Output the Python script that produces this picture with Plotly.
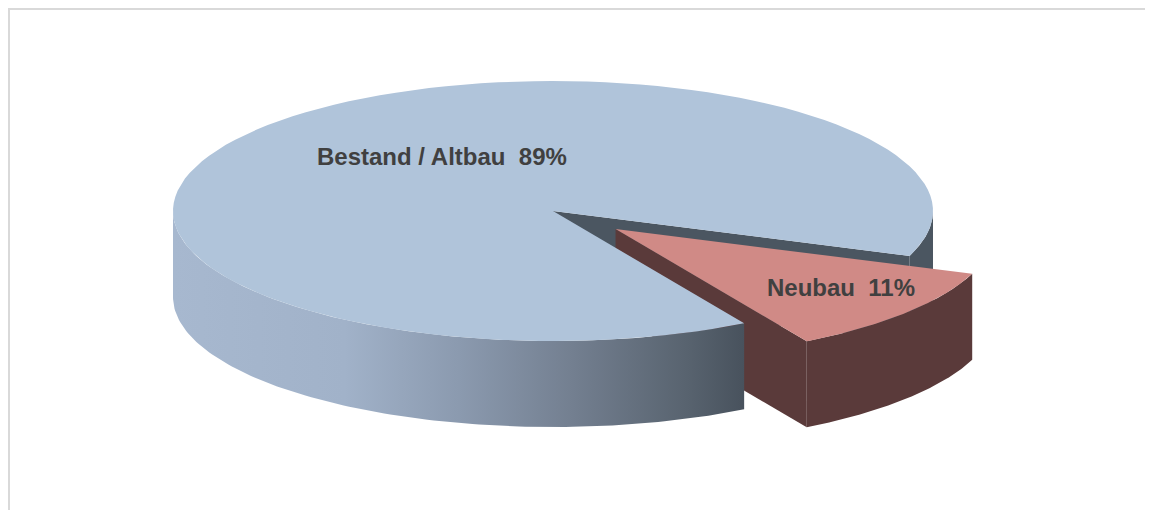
import numpy as np
import plotly.graph_objects as go

# ---- data ----
categories = ["Bestand / Altbau", "Neubau"]
values = [89, 11]
explode = [0.0, 0.215]

# ---- style ----
top_colors = ["#B0C4DA", "#D08A86"]
side_colors = ["#4B5661", "#5A3A3A"]
front_gradient = [[0.0, "#A7B8CF"], [0.3, "#A1B2C9"], [0.5, "#8B9AAF"],
                  [0.7, "#737F90"], [0.9, "#58636F"], [1.0, "#48525D"]]
label_pos = [(442, 156), (841, 287)]

W, H = 1153, 510
PAGE_OFF = 8  # default body margin of the html page
CX, CY, RX, RY, DEPTH = 553, 211, 380, 130, 86
START = -20.2  # degrees, slices run counter-clockwise

total = float(sum(values))
slices = []
a = START
for v, e in zip(values, explode):
    span = 360.0 * v / total
    a0, a1 = a, a + span
    mid = np.radians((a0 + a1) / 2)
    off = (RX * e * np.cos(mid), -RY * e * np.sin(mid))
    slices.append((a0, a1, off))
    a = a1


def pt(ang, off, dz=0.0):
    r = np.radians(ang)
    return CX + off[0] + RX * np.cos(r), CY + off[1] - RY * np.sin(r) + dz


def arc(a0, a1, off, dz=0.0, n=120):
    angs = np.linspace(a0, a1, n)
    xs, ys = zip(*[pt(t, off, dz) for t in angs])
    return list(xs), list(ys)


def wall(a0, a1, off):
    xt, yt = arc(a0, a1, off)
    xb, yb = arc(a0, a1, off, DEPTH)
    return xt + xb[::-1] + [xt[0]], yt + yb[::-1] + [yt[0]]


def front_parts(a0, a1):
    parts = []
    for k in (-1, 0, 1):
        lo, hi = 180 + 360 * k, 360 + 360 * k
        s, t = max(a0, lo), min(a1, hi)
        if t > s:
            parts.append((s, t))
    return parts


def face(ang, off):
    cx, cy = CX + off[0], CY + off[1]
    ex, ey = pt(ang, off)
    return [cx, ex, ex, cx, cx], [cy, ey, ey + DEPTH, cy + DEPTH, cy]


def top(a0, a1, off):
    xs, ys = arc(a0, a1, off)
    cx, cy = CX + off[0], CY + off[1]
    return [cx] + xs + [cx], [cy] + ys + [cy]


fig = go.Figure()


def poly(xy, color=None, grad=None):
    kw = dict(x=xy[0], y=xy[1], mode="lines", fill="toself",
              line=dict(width=0, color=color or "rgba(0,0,0,0)"),
              hoverinfo="skip", showlegend=False)
    if grad is not None:
        kw["fillgradient"] = dict(type="horizontal", colorscale=grad)
    else:
        kw["fillcolor"] = color
    fig.add_trace(go.Scatter(**kw))


(b0, b1, boff), (n0, n1, noff) = slices

# big slice: visible cut face at its start angle
if np.cos(np.radians(b0)) > 0:
    poly(face(b0, boff), side_colors[0])
# big slice: small right wall piece (behind exploded slice)
for s, t in front_parts(b0, b1):
    if pt(s, boff)[0] > CX:
        poly(wall(s, t, boff), side_colors[0])

# exploded slice
for s, t in front_parts(n0, n1):
    poly(wall(s, t, noff), side_colors[1])
if np.cos(np.radians(n0)) > 0:
    poly(face(n0, noff), side_colors[1])
poly(top(n0, n1, noff), top_colors[1])

# big slice: main front wall with gradient
for s, t in front_parts(b0, b1):
    if pt(s, boff)[0] <= CX:
        poly(wall(s, t, boff), grad=front_gradient)
poly(top(b0, b1, boff), top_colors[0])

for cat, v, (lx, ly) in zip(categories, values, label_pos):
    fig.add_annotation(x=lx, y=ly, text=f"{cat}\u00a0 {v}%", showarrow=False,
                       font=dict(family="Arial, Liberation Sans", size=24,
                                 color="#404040", weight="bold"),
                       xanchor="center", yanchor="middle")

fig.add_shape(type="rect", x0=9, y0=9, x1=W + 40, y1=H + 40,
              line=dict(color="#D9D9D9", width=2), layer="above")

fig.update_layout(
    width=W - PAGE_OFF, height=H - PAGE_OFF, margin=dict(l=0, r=0, t=0, b=0),
    paper_bgcolor="white", plot_bgcolor="white",
    xaxis=dict(range=[PAGE_OFF, W], visible=False, fixedrange=True),
    yaxis=dict(range=[H, PAGE_OFF], visible=False, fixedrange=True),
)

fig.write_html("out.html")
